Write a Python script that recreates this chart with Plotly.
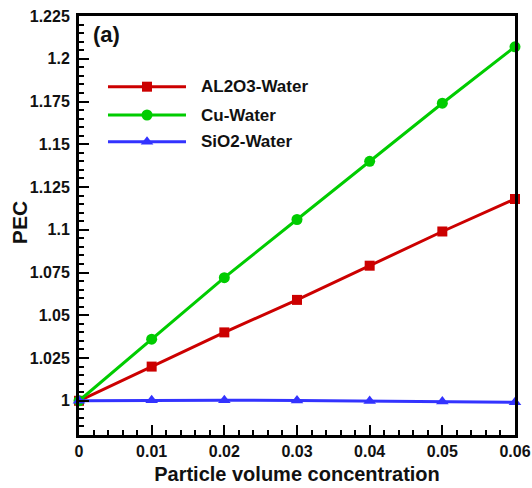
import plotly.graph_objects as go

conc = [0, 0.01, 0.02, 0.03, 0.04, 0.05, 0.06]
al2o3 = [1.000, 1.020, 1.040, 1.059, 1.079, 1.099, 1.118]
cu = [1.000, 1.036, 1.072, 1.106, 1.140, 1.174, 1.207]
sio2 = [1.000, 1.0003, 1.0003, 1.0002, 0.9999, 0.9996, 0.9991]

series_names = ["AL2O3-Water", "Cu-Water", "SiO2-Water"]
series_vals = [al2o3, cu, sio2]
colors = ["#cc0000", "#00cc00", "#3333ff"]
symbols = ["square", "circle", "triangle-up"]

x_ticks = [0, 0.01, 0.02, 0.03, 0.04, 0.05, 0.06]
x_ticktext = ["0", "0.01", "0.02", "0.03", "0.04", "0.05", "0.06"]
y_ticks = [1, 1.025, 1.05, 1.075, 1.1, 1.125, 1.15, 1.175, 1.2, 1.225]
y_ticktext = ["1", "1.025", "1.05", "1.075", "1.1", "1.125", "1.15", "1.175", "1.2", "1.225"]

FONT = "Arial, 'Liberation Sans', sans-serif"
BOLD = dict(family=FONT, weight="bold", color="#111")

fig = go.Figure()
for name, vals, c, s in zip(series_names, series_vals, colors, symbols):
    fig.add_trace(go.Scatter(
        x=conc, y=vals, name=name, mode="lines+markers",
        line=dict(color=c, width=3),
        marker=dict(symbol=s, size=11 if s != "square" else 10, color=c),
        cliponaxis=False, showlegend=False,
    ))

# custom legend (paper coordinates)
leg_x0, leg_x1, leg_xm, leg_tx = 0.0665, 0.2454, 0.156, 0.275
leg_y = [0.8313, 0.7637, 0.700]
for name, c, s, yy in zip(series_names, colors, symbols, leg_y):
    fig.add_shape(type="line", xref="paper", yref="paper",
                  x0=leg_x0, x1=leg_x1, y0=yy, y1=yy,
                  line=dict(color=c, width=3))
    fig.add_trace(go.Scatter(
        x=[leg_xm], y=[yy], xaxis="x2", yaxis="y2", mode="markers",
        marker=dict(symbol=s, size=11 if s != "square" else 10, color=c),
        showlegend=False, hoverinfo="skip", cliponaxis=False,
    ))
    fig.add_annotation(xref="paper", yref="paper", x=leg_tx, y=yy,
                       text=name, showarrow=False, xanchor="left",
                       yanchor="middle", font=dict(BOLD, size=17))

fig.add_annotation(xref="paper", yref="paper", x=0.028, y=0.99,
                   text="(a)", showarrow=False, xanchor="left", yanchor="top",
                   font=dict(BOLD, size=22))

# y-axis title
fig.add_annotation(xref="paper", yref="paper", x=-0.135, y=0.506,
                   text="PEC", showarrow=False, textangle=-90,
                   xanchor="center", yanchor="middle",
                   font=dict(BOLD, size=21))

axis_common = dict(
    showline=True, linecolor="black", linewidth=3, mirror=True,
    ticks="inside", ticklen=10, tickwidth=2, tickcolor="black",
    showgrid=False, zeroline=False, automargin=False,
    tickfont=dict(BOLD, size=16),
)

fig.update_layout(
    width=532, height=488,
    margin=dict(l=79, r=17, t=16, b=53),
    paper_bgcolor="white", plot_bgcolor="white",
    font=dict(family=FONT, color="#111"),
    xaxis=dict(range=[0, 0.06], tickmode="array", tickvals=x_ticks, ticktext=x_ticktext,
               minor=dict(tickmode="linear", dtick=0.002, tick0=0, ticks="inside", ticklen=5,
                          tickwidth=1.5, tickcolor="black"),
               title=dict(text="Particle volume concentration",
                          font=dict(BOLD, size=20), standoff=8),
               **axis_common),
    yaxis=dict(range=[0.98, 1.225], tickmode="array", tickvals=y_ticks, ticktext=y_ticktext,
               minor=dict(tickmode="linear", dtick=0.005, tick0=1, ticks="inside", ticklen=5,
                          tickwidth=1.5, tickcolor="black"),
               ticklabelstandoff=3,
               **axis_common),
    xaxis2=dict(range=[0, 1], overlaying="x", visible=False, domain=[0, 1]),
    yaxis2=dict(range=[0, 1], overlaying="y", visible=False, domain=[0, 1]),
)

fig.write_html("out.html", config={"displayModeBar": False},
               post_script="document.body.style.margin='0';document.body.style.overflow='hidden';")
